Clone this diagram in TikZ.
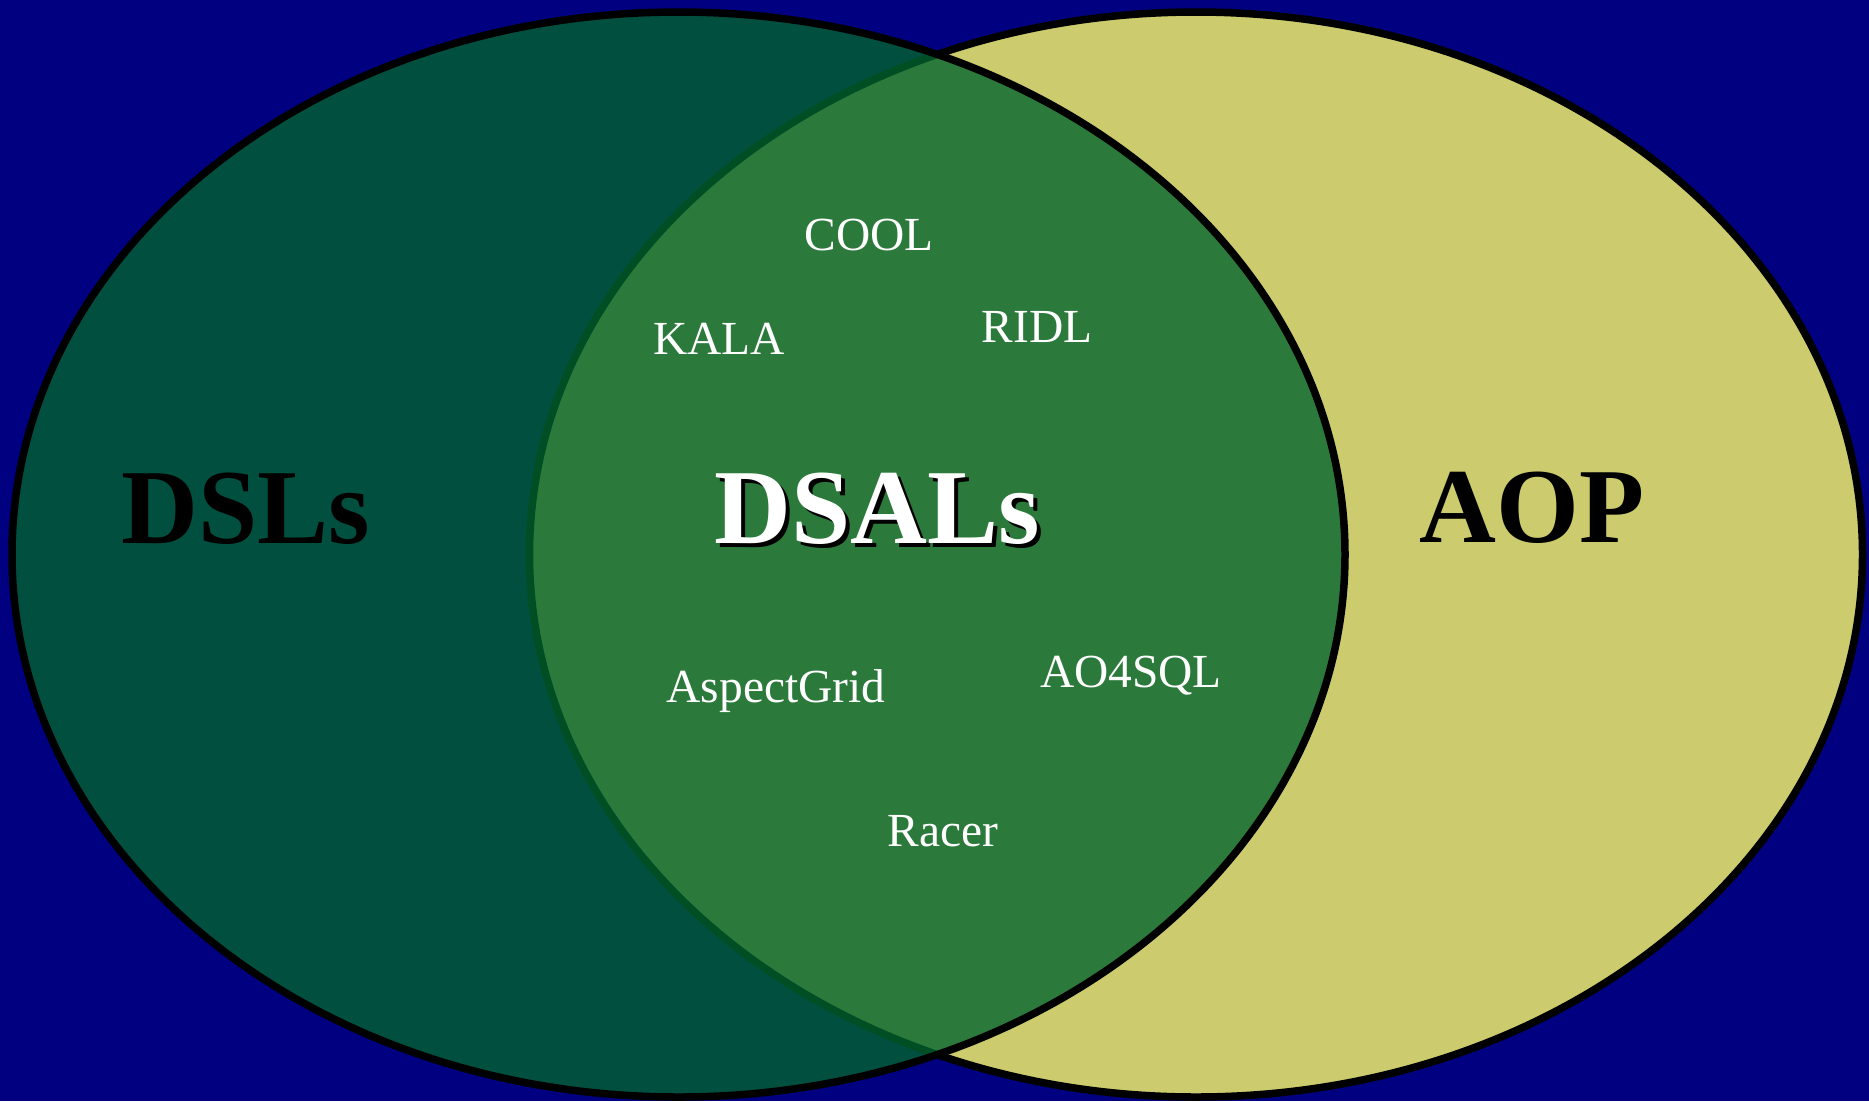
\documentclass[tikz,border=0pt]{standalone}
\usepackage{fontspec}
\setmainfont{Liberation Serif}
\usetikzlibrary{calc}

\definecolor{vennbg}{RGB}{0,0,128}
\definecolor{aopfill}{RGB}{204,204,110}
\definecolor{dslfill}{RGB}{0,101,46}

\tikzset{
  setlabel/.style={anchor=base,inner sep=0pt,outer sep=0pt,font=\fontsize{30.3}{31}\selectfont\bfseries},
  langlabel/.style={anchor=base,inner sep=0pt,outer sep=0pt,text=white,font=\fontsize{13.5}{14}\selectfont}
}

\begin{document}
\begin{tikzpicture}[x=0.1mm,y=-0.1mm]
\useasboundingbox (0,0) rectangle (1869,1101);

\def\vennrx{66.65mm}
\def\vennry{54.25mm}
\def\vennline{0.75mm}
\def\vennshadow{4}

\coordinate (dslc) at (678.5,554.5);
\coordinate (aopc) at (1196,554.5);

% background
\fill[vennbg] (0,0) rectangle (1869,1101);

% ellipses
\filldraw[fill=aopfill, draw=black, line width=\vennline]
	(aopc) ellipse [x radius=\vennrx, y radius=\vennry];
\filldraw[fill=dslfill, fill opacity=0.79, draw=black, draw opacity=1, line width=\vennline]
	(dslc) ellipse [x radius=\vennrx, y radius=\vennry];

% set names
\node[setlabel] (dsls) at (246,543) {DSLs};
\node[setlabel] (aop) at (1532,542) {AOP};
\node[setlabel,text=black] (dsalsshadow) at ($(877,543)+(\vennshadow,\vennshadow)$) {DSALs};
\node[setlabel,text=white] (dsals) at (877,543) {DSALs};

% languages
\node[langlabel] (cool) at (869,250) {COOL};
\node[langlabel] (kala) at (719,354) {KALA};
\node[langlabel] (ridl) at (1037,342) {RIDL};
\node[langlabel] (aspectgrid) at (776,702) {AspectGrid};
\node[langlabel] (ao4sql) at (1131,687) {AO4SQL};
\node[langlabel] (racer) at (943,846) {Racer};

\end{tikzpicture}
\end{document}
